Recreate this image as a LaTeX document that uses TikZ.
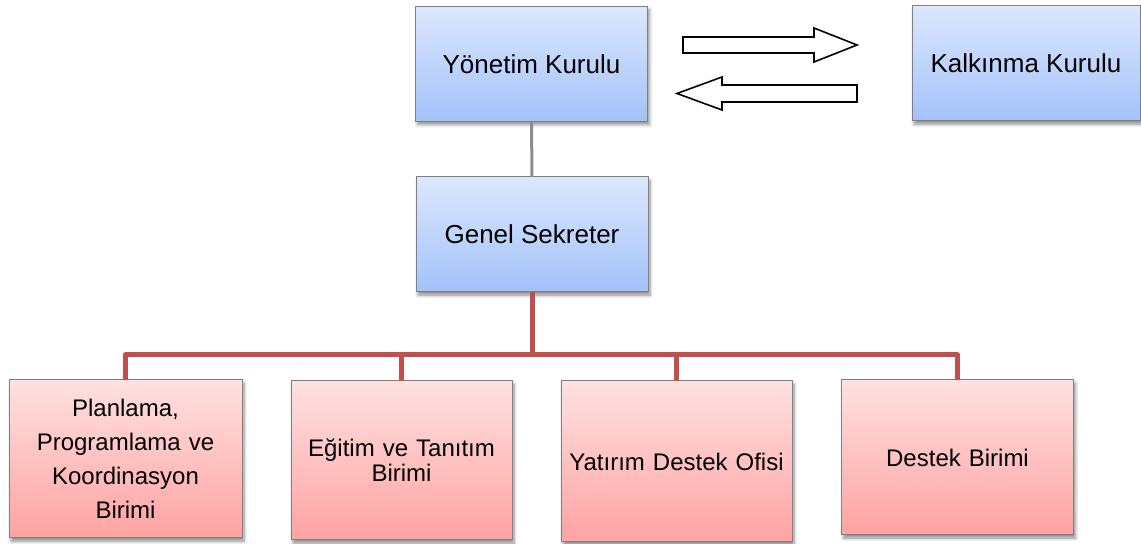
\documentclass[tikz,border=0pt]{standalone}
\usepackage{fontspec}
\setmainfont{Liberation Sans}
\usetikzlibrary{calc}
\usetikzlibrary{shadows.blur}
\definecolor{boxtopblue}{HTML}{DCE7FD}
\definecolor{boxbotblue}{HTML}{A3C2FA}
\definecolor{boxtoppink}{HTML}{FFE1E1}
\definecolor{boxbotpink}{HTML}{FFA2A2}
\definecolor{boxline}{HTML}{7F7F7F}
\definecolor{busred}{HTML}{C0504D}

\begin{document}
\begin{tikzpicture}[x=0.5pt,y=-0.5pt,
    every node/.style={inner sep=2pt,outer sep=0,align=center},
    box/.style={draw=boxline,line width=0.5pt,blur shadow={shadow xshift=1pt,shadow yshift=-1.6pt,shadow blur steps=6,shadow blur radius=1.6pt,shadow opacity=45}},
    bluebox/.style={box,top color=boxtopblue,bottom color=boxbotblue,minimum width=116pt,minimum height=57.5pt,font=\fontsize{13}{16}\selectfont},
    pinkbox/.style={box,top color=boxtoppink,bottom color=boxbotpink,minimum width=116pt,minimum height=79pt,text width=105pt,font=\fontsize{12}{12.5}\selectfont},
    blockarrow/.style={draw=black,line width=0.8pt,fill=white,line join=miter}]
    \useasboundingbox (0,0) rectangle (1141,544);

    \node[bluebox](yk) at (531.5,64) {Yönetim Kurulu};
    \node[bluebox,minimum width=114pt](kk) at (1026,63.5) {Kalkınma Kurulu};
    \node[bluebox](gs) at (532,234.5) {Genel Sekreter};

    \node[pinkbox,minimum width=116.5pt,font=\fontsize{12}{17}\selectfont](b1) at (125.5,459) {Planlama,\\Programlama ve\\Koordinasyon\\Birimi};
    \node[pinkbox,minimum width=110.5pt,minimum height=79.5pt](b2) at (401.5,460.5) {Eğitim ve Tanıtım\\Birimi};
    \node[pinkbox,minimum width=115.5pt,minimum height=80.5pt,text width=110pt](b3) at (676.5,461.5) {Yatırım Destek Ofisi};
    \node[pinkbox,minimum width=116pt,minimum height=77.5pt](b4) at (957.5,457.5) {Destek Birimi};

    \draw[blockarrow] (683,37) -- (814,37) -- (814,28) -- (857,45) -- (814,62) -- (814,53) -- (683,53) -- cycle;
    \draw[blockarrow] (857,85) -- (722,85) -- (722,77) -- (677,93.5) -- (722,110) -- (722,102) -- (857,102) -- cycle;

    \draw[boxline!90,line width=1.5pt] (yk.south) -- (gs.north);

    \coordinate (bus) at (532,355);
    \draw[busred,line width=2.5pt] (gs.south) -- (bus);
    \draw[busred,line width=2.5pt,line join=round] (b1.north) |- (bus) -| (b4.north);
    \draw[busred,line width=2.5pt] (b2.north) -- (b2.north |- bus);
    \draw[busred,line width=2.5pt] (b3.north) -- (b3.north |- bus);
\end{tikzpicture}
\end{document}
